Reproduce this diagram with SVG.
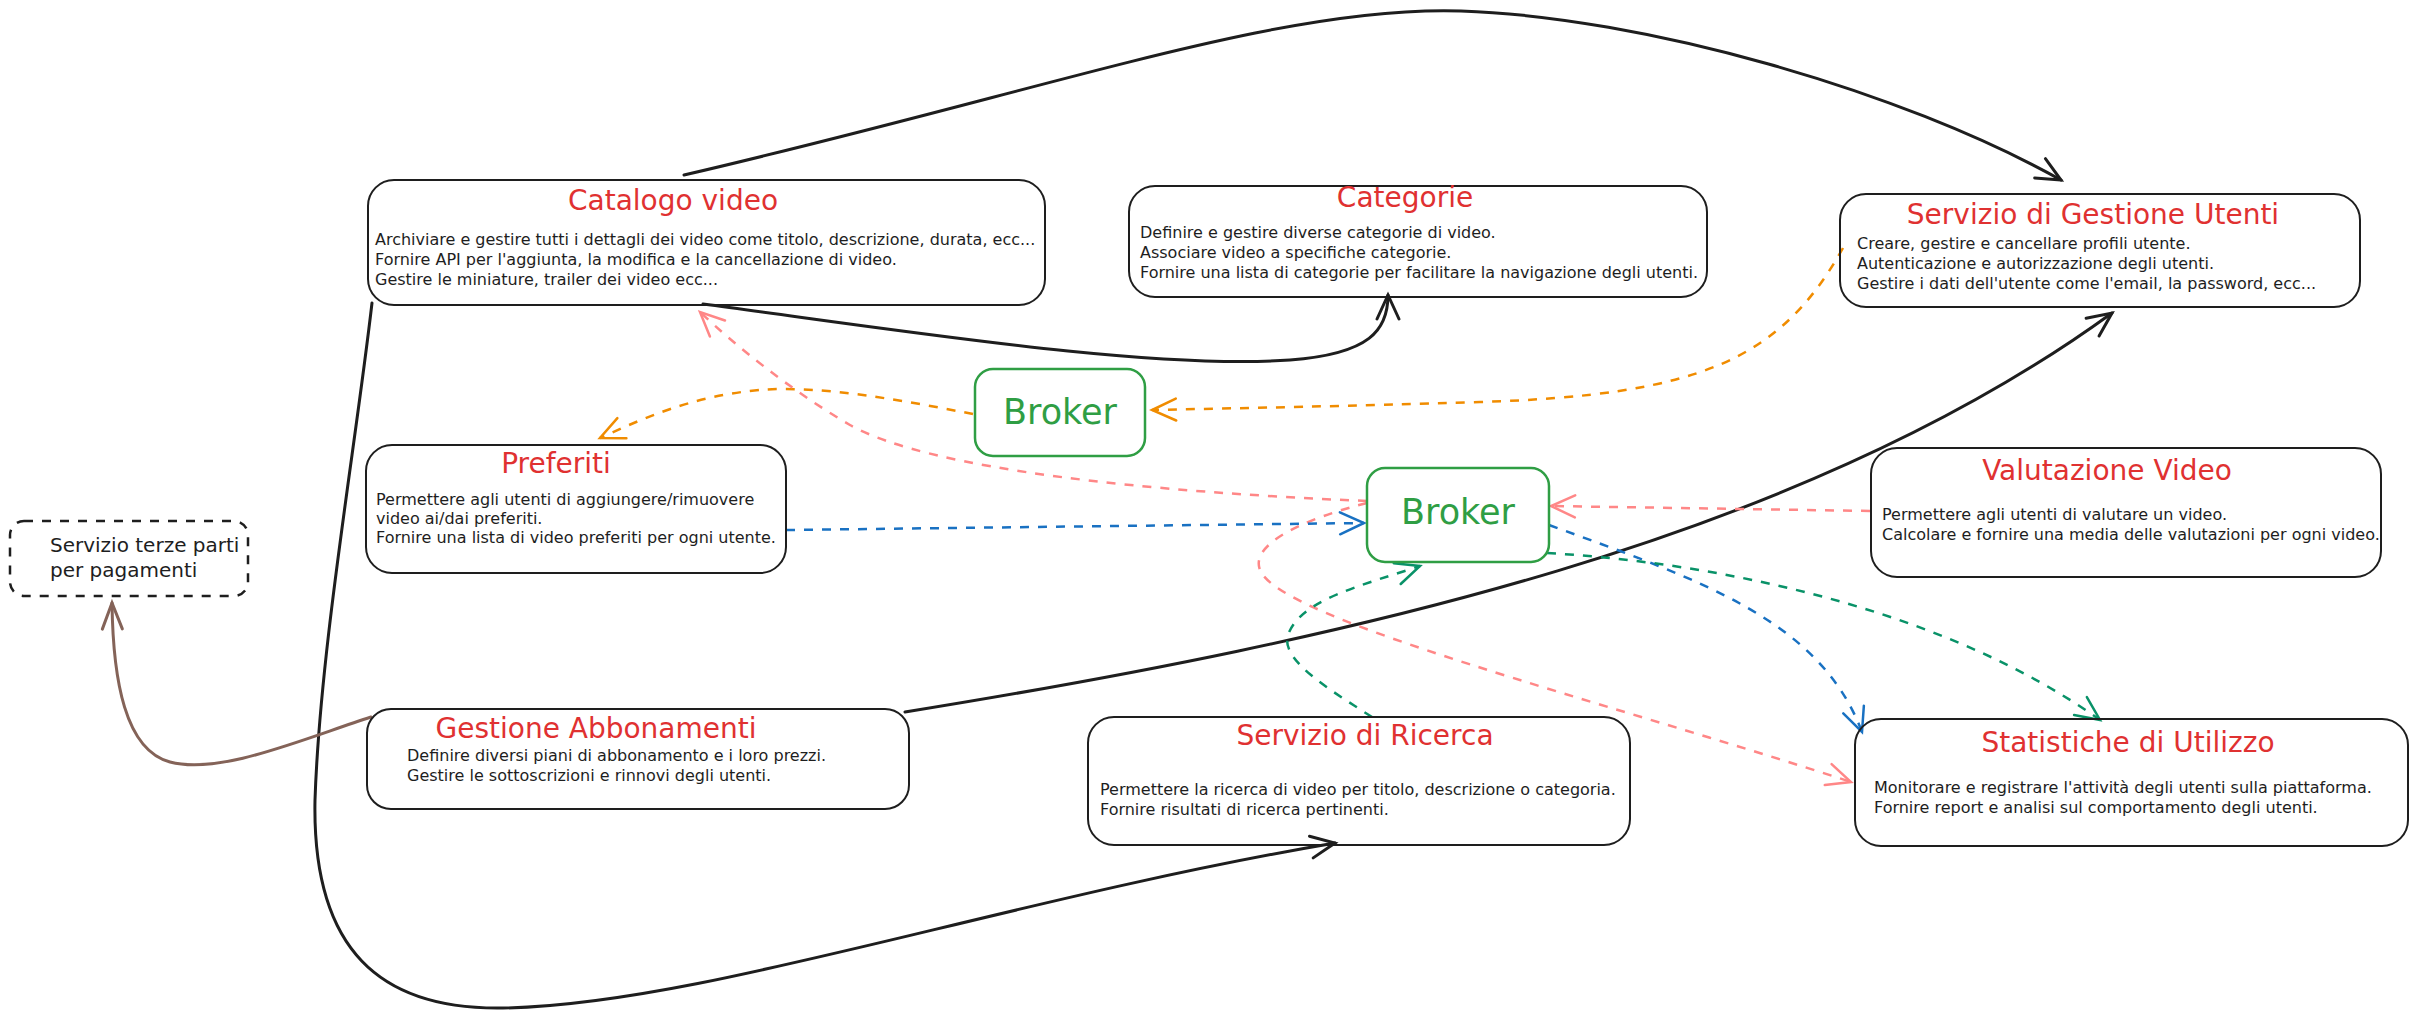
<svg xmlns="http://www.w3.org/2000/svg" width="2415" height="1018" viewBox="0 0 2415 1018">
<defs>
<style>
.box{fill:none;stroke:#1e1e1e;stroke-width:2}
.dbox{fill:none;stroke:#1e1e1e;stroke-width:2.5;stroke-dasharray:9 9}
.bk{fill:none;stroke:#2f9e44;stroke-width:2.5}
.t{font-family:"DejaVu Sans","Liberation Sans",sans-serif;font-size:28px;fill:#e03131;text-anchor:middle}
.b{font-family:"DejaVu Sans","Liberation Sans",sans-serif;font-size:16px;fill:#1e1e1e}
.bt{font-family:"DejaVu Sans","Liberation Sans",sans-serif;font-size:35px;fill:#2f9e44;text-anchor:middle}
.tp{font-family:"DejaVu Sans","Liberation Sans",sans-serif;font-size:20px;fill:#1e1e1e}
.c{fill:none;stroke-width:3;stroke-linecap:round}
.d{fill:none;stroke-width:2.5;stroke-dasharray:9 9}
</style>
<marker id="mBlack" markerUnits="userSpaceOnUse" markerWidth="40" markerHeight="40" refX="0" refY="0" viewBox="-30 -20 40 40" orient="auto"><path d="M-24,-11 L0,0 L-24,11" fill="none" stroke="#1e1e1e" stroke-width="3" stroke-linecap="round"/></marker>
<marker id="mBrown" markerUnits="userSpaceOnUse" markerWidth="40" markerHeight="40" refX="0" refY="0" viewBox="-30 -20 40 40" orient="auto"><path d="M-26,-10 L0,0 L-26,10" fill="none" stroke="#846358" stroke-width="3" stroke-linecap="round"/></marker>
<marker id="mOrange" markerUnits="userSpaceOnUse" markerWidth="40" markerHeight="40" refX="0" refY="0" viewBox="-30 -20 40 40" orient="auto"><path d="M-24,-11 L0,0 L-24,11" fill="none" stroke="#f08c00" stroke-width="2.5" stroke-linecap="round"/></marker>
<marker id="mPink" markerUnits="userSpaceOnUse" markerWidth="40" markerHeight="40" refX="0" refY="0" viewBox="-30 -20 40 40" orient="auto"><path d="M-24,-11 L0,0 L-24,11" fill="none" stroke="#ff8787" stroke-width="2.5" stroke-linecap="round"/></marker>
<marker id="mBlue" markerUnits="userSpaceOnUse" markerWidth="40" markerHeight="40" refX="0" refY="0" viewBox="-30 -20 40 40" orient="auto"><path d="M-24,-11 L0,0 L-24,11" fill="none" stroke="#1971c2" stroke-width="2.5" stroke-linecap="round"/></marker>
<marker id="mGreen" markerUnits="userSpaceOnUse" markerWidth="40" markerHeight="40" refX="0" refY="0" viewBox="-30 -20 40 40" orient="auto"><path d="M-24,-11 L0,0 L-24,11" fill="none" stroke="#099268" stroke-width="2.5" stroke-linecap="round"/></marker>
</defs>
<rect width="2415" height="1018" fill="#ffffff"/>
<g id="connectors">
<path class="c" stroke="#1e1e1e" marker-end="url(#mBlack)" d="M684,175 C1050,90 1280,5 1461,11 C1642,17 1900,90 2061,180"/>
<path class="c" stroke="#1e1e1e" marker-end="url(#mBlack)" d="M703,304 C900,330 1150,370 1290,360 C1370,354 1388,330 1388,295"/>
<path class="c" stroke="#1e1e1e" marker-end="url(#mBlack)" d="M372,303 C355,450 320,650 315,800 C312,950 380,1010 503,1008 C700,1005 1000,900 1335,843"/>
<path class="c" stroke="#1e1e1e" marker-end="url(#mBlack)" d="M905,712 C1350,640 1800,540 2112,313"/>
<path class="c" stroke="#846358" marker-end="url(#mBrown)" d="M371,717 C300,740 220,775 170,762 C125,750 113,680 112,603"/>
<path class="d" stroke="#f08c00" marker-end="url(#mOrange)" d="M1843,248 C1780,360 1700,395 1480,402 C1350,406 1250,408 1152,410"/>
<path class="d" stroke="#f08c00" marker-end="url(#mOrange)" d="M973,414 C900,400 820,385 760,390 C690,396 640,420 600,438"/>
<path class="d" stroke="#ff8787" marker-end="url(#mPink)" d="M1367,501 C1150,492 930,470 850,425 C790,390 735,345 700,312"/>
<path class="d" stroke="#ff8787" marker-end="url(#mPink)" d="M1870,511 L1551,506"/>
<path class="d" stroke="#ff8787" marker-end="url(#mPink)" d="M1367,503 C1300,520 1250,545 1260,570 C1280,620 1600,700 1851,782"/>
<path class="d" stroke="#1971c2" marker-end="url(#mBlue)" d="M786,530 L1364,523"/>
<path class="d" stroke="#1971c2" marker-end="url(#mBlue)" d="M1549,525 C1700,580 1820,620 1862,732"/>
<path class="d" stroke="#099268" marker-end="url(#mGreen)" d="M1547,553 C1750,565 1960,620 2100,720"/>
<path class="d" stroke="#099268" marker-end="url(#mGreen)" d="M1372,717 C1330,690 1280,660 1288,635 C1300,600 1360,586 1420,566"/>
</g>
<g id="catalogo">
<rect class="box" x="368" y="180" width="677" height="125" rx="26"/>
<text class="t" x="673" y="210">Catalogo video</text>
<text class="b" x="375" y="245">Archiviare e gestire tutti i dettagli dei video come titolo, descrizione, durata, ecc...</text>
<text class="b" x="375" y="265">Fornire API per l'aggiunta, la modifica e la cancellazione di video.</text>
<text class="b" x="375" y="285">Gestire le miniature, trailer dei video ecc...</text>
</g>
<g id="categorie">
<rect class="box" x="1129" y="186" width="578" height="111" rx="26"/>
<text class="t" x="1405" y="207">Categorie</text>
<text class="b" x="1140" y="238">Definire e gestire diverse categorie di video.</text>
<text class="b" x="1140" y="258">Associare video a specifiche categorie.</text>
<text class="b" x="1140" y="278">Fornire una lista di categorie per facilitare la navigazione degli utenti.</text>
</g>
<g id="utenti">
<rect class="box" x="1840" y="194" width="520" height="113" rx="26"/>
<text class="t" x="2093" y="224">Servizio di Gestione Utenti</text>
<text class="b" x="1857" y="249">Creare, gestire e cancellare profili utente.</text>
<text class="b" x="1857" y="269">Autenticazione e autorizzazione degli utenti.</text>
<text class="b" x="1857" y="289">Gestire i dati dell'utente come l'email, la password, ecc...</text>
</g>
<g id="valutazione">
<rect class="box" x="1871" y="448" width="510" height="129" rx="26"/>
<text class="t" x="2107" y="480">Valutazione Video</text>
<text class="b" x="1882" y="520">Permettere agli utenti di valutare un video.</text>
<text class="b" x="1882" y="540">Calcolare e fornire una media delle valutazioni per ogni video.</text>
</g>
<g id="preferiti">
<rect class="box" x="366" y="445" width="420" height="128" rx="26"/>
<text class="t" x="556" y="473">Preferiti</text>
<text class="b" x="376" y="505">Permettere agli utenti di aggiungere/rimuovere</text>
<text class="b" x="376" y="524">video ai/dai preferiti.</text>
<text class="b" x="376" y="543">Fornire una lista di video preferiti per ogni utente.</text>
</g>
<g id="terze-parti">
<rect class="dbox" x="10" y="521" width="238" height="75" rx="14"/>
<text class="tp" x="50" y="552">Servizio terze parti</text>
<text class="tp" x="50" y="577">per pagamenti</text>
</g>
<g id="abbonamenti">
<rect class="box" x="367" y="709" width="542" height="100" rx="24"/>
<text class="t" x="596" y="738">Gestione Abbonamenti</text>
<text class="b" x="407" y="761">Definire diversi piani di abbonamento e i loro prezzi.</text>
<text class="b" x="407" y="781">Gestire le sottoscrizioni e rinnovi degli utenti.</text>
</g>
<g id="ricerca">
<rect class="box" x="1088" y="717" width="542" height="128" rx="26"/>
<text class="t" x="1365" y="745">Servizio di Ricerca</text>
<text class="b" x="1100" y="795">Permettere la ricerca di video per titolo, descrizione o categoria.</text>
<text class="b" x="1100" y="815">Fornire risultati di ricerca pertinenti.</text>
</g>
<g id="statistiche">
<rect class="box" x="1855" y="719" width="553" height="127" rx="26"/>
<text class="t" x="2128" y="752">Statistiche di Utilizzo</text>
<text class="b" x="1874" y="793">Monitorare e registrare l'attività degli utenti sulla piattaforma.</text>
<text class="b" x="1874" y="813">Fornire report e analisi sul comportamento degli utenti.</text>
</g>
<g id="broker1">
<rect class="bk" x="975" y="369" width="170" height="87" rx="18"/>
<text class="bt" x="1060" y="424">Broker</text>
</g>
<g id="broker2">
<rect class="bk" x="1367" y="468" width="182" height="94" rx="18"/>
<text class="bt" x="1458" y="524">Broker</text>
</g>
</svg>
